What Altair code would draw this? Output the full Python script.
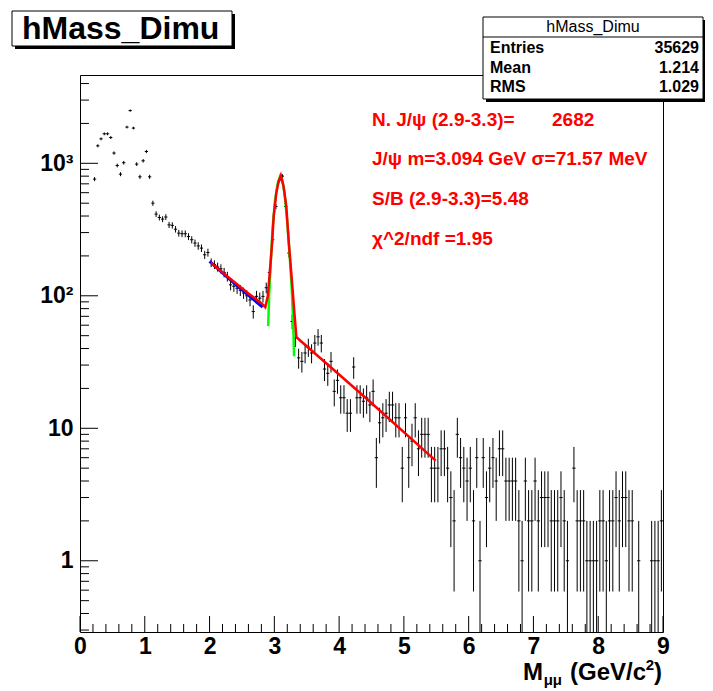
import altair as alt
import pandas as pd
import numpy as np

# ---------------- data ----------------
BIN_WIDTH = 0.05
counts = [0, 0, 0, 0, 760, 1355, 1530, 1670, 1670, 1565,
          1195, 963, 828, 1010, 1876, 2500, 1845, 986, 791, 1045,
          1228, 791, 500, 414, 390, 379, 393, 343, 340, 318,
          297, 294, 294, 280, 265, 250, 238, 229, 204, 212,
          178, 172, 165, 160, 150, 140, 121, 118, 114, 110,
          105, 100, 93, 76, 99, 96, 99, 115, 150, 265,
          472, 740, 800, 472, 210, 64, 48, 34, 32, 37,
          41, 37, 44, 49, 44, 28, 26, 32, 19, 23,
          17, 17, 13, 13, 29, 17, 17, 16, 17, 15,
          19, 6, 11, 12, 13, 15, 15, 12, 12, 5,
          12, 6, 8, 12, 7, 9, 9, 9, 5, 5,
          5, 7, 7, 5, 3, 2, 9, 6, 5, 4,
          5, 2, 6, 1, 6, 3, 5, 6, 4, 7,
          7, 4, 4, 4, 4, 2, 1, 4, 2, 2,
          4, 2, 3, 3, 3, 2, 2, 2, 3, 2,
          1, 0, 5, 2, 2, 2, 1, 1, 1, 1,
          2, 2, 1, 2, 2, 3, 2, 3, 3, 2,
          2, 0, 1, 0, 0, 0, 1, 1, 1, 2]

red_x = [2.02, 2.3, 2.6, 2.8, 2.86, 2.9, 2.93, 2.96, 2.99, 3.03, 3.066, 3.1,
         3.143, 3.185, 3.22, 3.274, 3.31, 3.34, 3.377, 4.33, 5.49]
red_y = [178, 137, 104, 88, 82, 100, 150, 230, 397, 596, 729, 810,
         668, 472, 265, 125, 74, 49, 47, 18.4, 5.7]
green_x = [2.905, 2.92, 2.945, 2.975, 3.01, 3.05, 3.09, 3.12, 3.16, 3.2, 3.24, 3.27, 3.29, 3.305]
green_y = [59, 100, 180, 330, 520, 700, 800, 760, 580, 360, 190, 110, 65, 35]
blue_x = [2.0, 2.4, 2.82]
blue_y = [182, 122, 82]

x_major = [0, 1, 2, 3, 4, 5, 6, 7, 8, 9]
x_minor = [round(0.2 * k, 1) for k in range(46) if k % 5 != 0]
y_major = [1, 10, 100, 1000]
y_minor = [m * d for d in (0.1, 1, 10, 100) for m in range(2, 10) if 0.29 <= m * d] + [2000, 3000, 4000]

stats_rows = ["Entries", "Mean", "RMS"]
stats_vals = ["35629", "1.214", "1.029"]
fit_lines = ["N. J/\u03c8 (2.9-3.3)=", "J/\u03c8 m=3.094 GeV \u03c3=71.57 MeV",
             "S/B (2.9-3.3)=5.48", "\u03c7^2/ndf =1.95"]
n_jpsi = "2682"

# ---------------- build tables ----------------
c = np.array(counts, dtype=float)
idx = np.arange(len(c))
hist = pd.DataFrame({
    "xc": (idx + 0.5) * BIN_WIDTH,
    "xl": idx * BIN_WIDTH,
    "xh": (idx + 1) * BIN_WIDTH,
    "n": c,
    "lo": np.maximum(c - np.sqrt(c), 1e-3),
    "hi": c + np.sqrt(c),
})
hist = hist[hist.n > 0]

W, H = 583, 557
FONT = "Liberation Sans"
xs = alt.Scale(domain=[0, 9], nice=False, zero=False)
ys = alt.Scale(type="log", domain=[0.29, 4640], nice=False)

xaxis = alt.Axis(values=x_major, ticks=False, domain=False, grid=False, format="d",
                 labelFont=FONT, labelFontWeight="bold", labelFontSize=23, labelColor="black",
                 labelPadding=3, labelFlush=False, labelOverlap=False, title="")
yaxis = alt.Axis(values=y_major, ticks=False, domain=False, grid=False,
                 labelExpr="datum.value == 1 ? '1' : datum.value == 10 ? '10' : datum.value == 100 ? '10\u00b2' : '10\u00b3'",
                 labelFont=FONT, labelFontWeight="bold", labelFontSize=23, labelColor="black",
                 labelPadding=7, labelFlush=False, labelOverlap=False, title="")

vbars = alt.Chart(hist).mark_rule(color="black", strokeWidth=1, clip=True).encode(
    x=alt.X("xc:Q", scale=xs, axis=xaxis),
    y=alt.Y("lo:Q", scale=ys, axis=yaxis),
    y2="hi:Q",
)
hbars = alt.Chart(hist).mark_rule(color="black", strokeWidth=1, clip=True).encode(
    x=alt.X("xl:Q", scale=xs), x2="xh:Q",
    y=alt.Y("n:Q", scale=ys),
)

def fit(xv, yv, color, w):
    return alt.Chart(pd.DataFrame({"x": xv, "y": yv})).mark_line(
        color=color, strokeWidth=w, clip=True).encode(
        x=alt.X("x:Q", scale=xs), y=alt.Y("y:Q", scale=ys))

blue = fit(blue_x, blue_y, "#0000ff", 3)
green = fit(green_x, green_y, "#00ff00", 2.5)
red = fit(red_x, red_y, "#ff0000", 2.5)

def xticks(vals, ln):
    return alt.Chart(pd.DataFrame({"v": vals})).mark_rule(color="black", strokeWidth=1).encode(
        x=alt.X("v:Q", scale=xs), y=alt.value(H), y2=alt.value(H - ln))

def yticks(vals, ln):
    return alt.Chart(pd.DataFrame({"v": vals})).mark_rule(color="black", strokeWidth=1).encode(
        y=alt.Y("v:Q", scale=ys), x=alt.value(0), x2=alt.value(ln))

one = pd.DataFrame({"a": [0]})

def rect(x1, x2, y1, y2, fill, stroke=None):
    kw = dict(fill=fill)
    if stroke:
        kw.update(stroke=stroke, strokeWidth=1)
    return alt.Chart(one).mark_rect(**kw).encode(
        x=alt.value(x1), x2=alt.value(x2), y=alt.value(y1), y2=alt.value(y2))

def txt(s, x, y, size, weight="bold", color="black", align="left", baseline="alphabetic"):
    return alt.Chart(pd.DataFrame({"t": [s]})).mark_text(
        align=align, baseline=baseline, fontSize=size, fontWeight=weight,
        color=color, font=FONT).encode(x=alt.value(x), y=alt.value(y), text="t:N")

layers = [xticks(x_major, 16), xticks(x_minor, 8), yticks(y_major, 18), yticks(y_minor, 9),
          vbars, hbars, blue, green, red]

# title box (plot coords = page - (80, 75))
layers += [rect(-65, 155, -61, -26, "black"), rect(-68, 152, -64, -29, "white", "black"),
           txt("hMass_Dimu", -58, -36, 32)]

# stats box
layers += [rect(406, 626, -55, 27, "black"), rect(403, 623, -58, 24, "white", "black"),
           alt.Chart(one).mark_rule(color="black", strokeWidth=1).encode(
               x=alt.value(403), x2=alt.value(623), y=alt.value(-38)),
           txt("hMass_Dimu", 513, -43, 16, weight="normal", align="center")]
for k, (lab, val) in enumerate(zip(stats_rows, stats_vals)):
    yy = -22 + 19.5 * k
    layers += [txt(lab, 410, yy, 16), txt(val, 619, yy, 16, align="right")]

# red fit annotations
for k, s in enumerate(fit_lines):
    layers.append(txt(s, 292, [51, 90, 130, 170][k], 19, color="#ff0000"))
layers.append(txt(n_jpsi, 472, 51, 19, color="#ff0000"))

# x-axis title M_mumu (GeV/c^2)
layers += [txt(")", 582, 605, 24, align="right"),
           txt("2", 574, 595, 15, align="right"),
           txt("(GeV/c", 566, 605, 24, align="right"),
           txt("\u03bc\u03bc", 482, 610, 15, align="right"),
           txt("M", 463, 605, 24, align="right")]

chart = alt.layer(*layers).properties(
    width=W, height=H,
    autosize=alt.AutoSizeParams(type="none"),
    padding={"left": 72, "top": 67, "right": 42, "bottom": 59},
    background="white",
).configure_view(stroke="black", strokeWidth=1)

chart.save("out.html", embed_options={"renderer": "svg", "actions": False})
